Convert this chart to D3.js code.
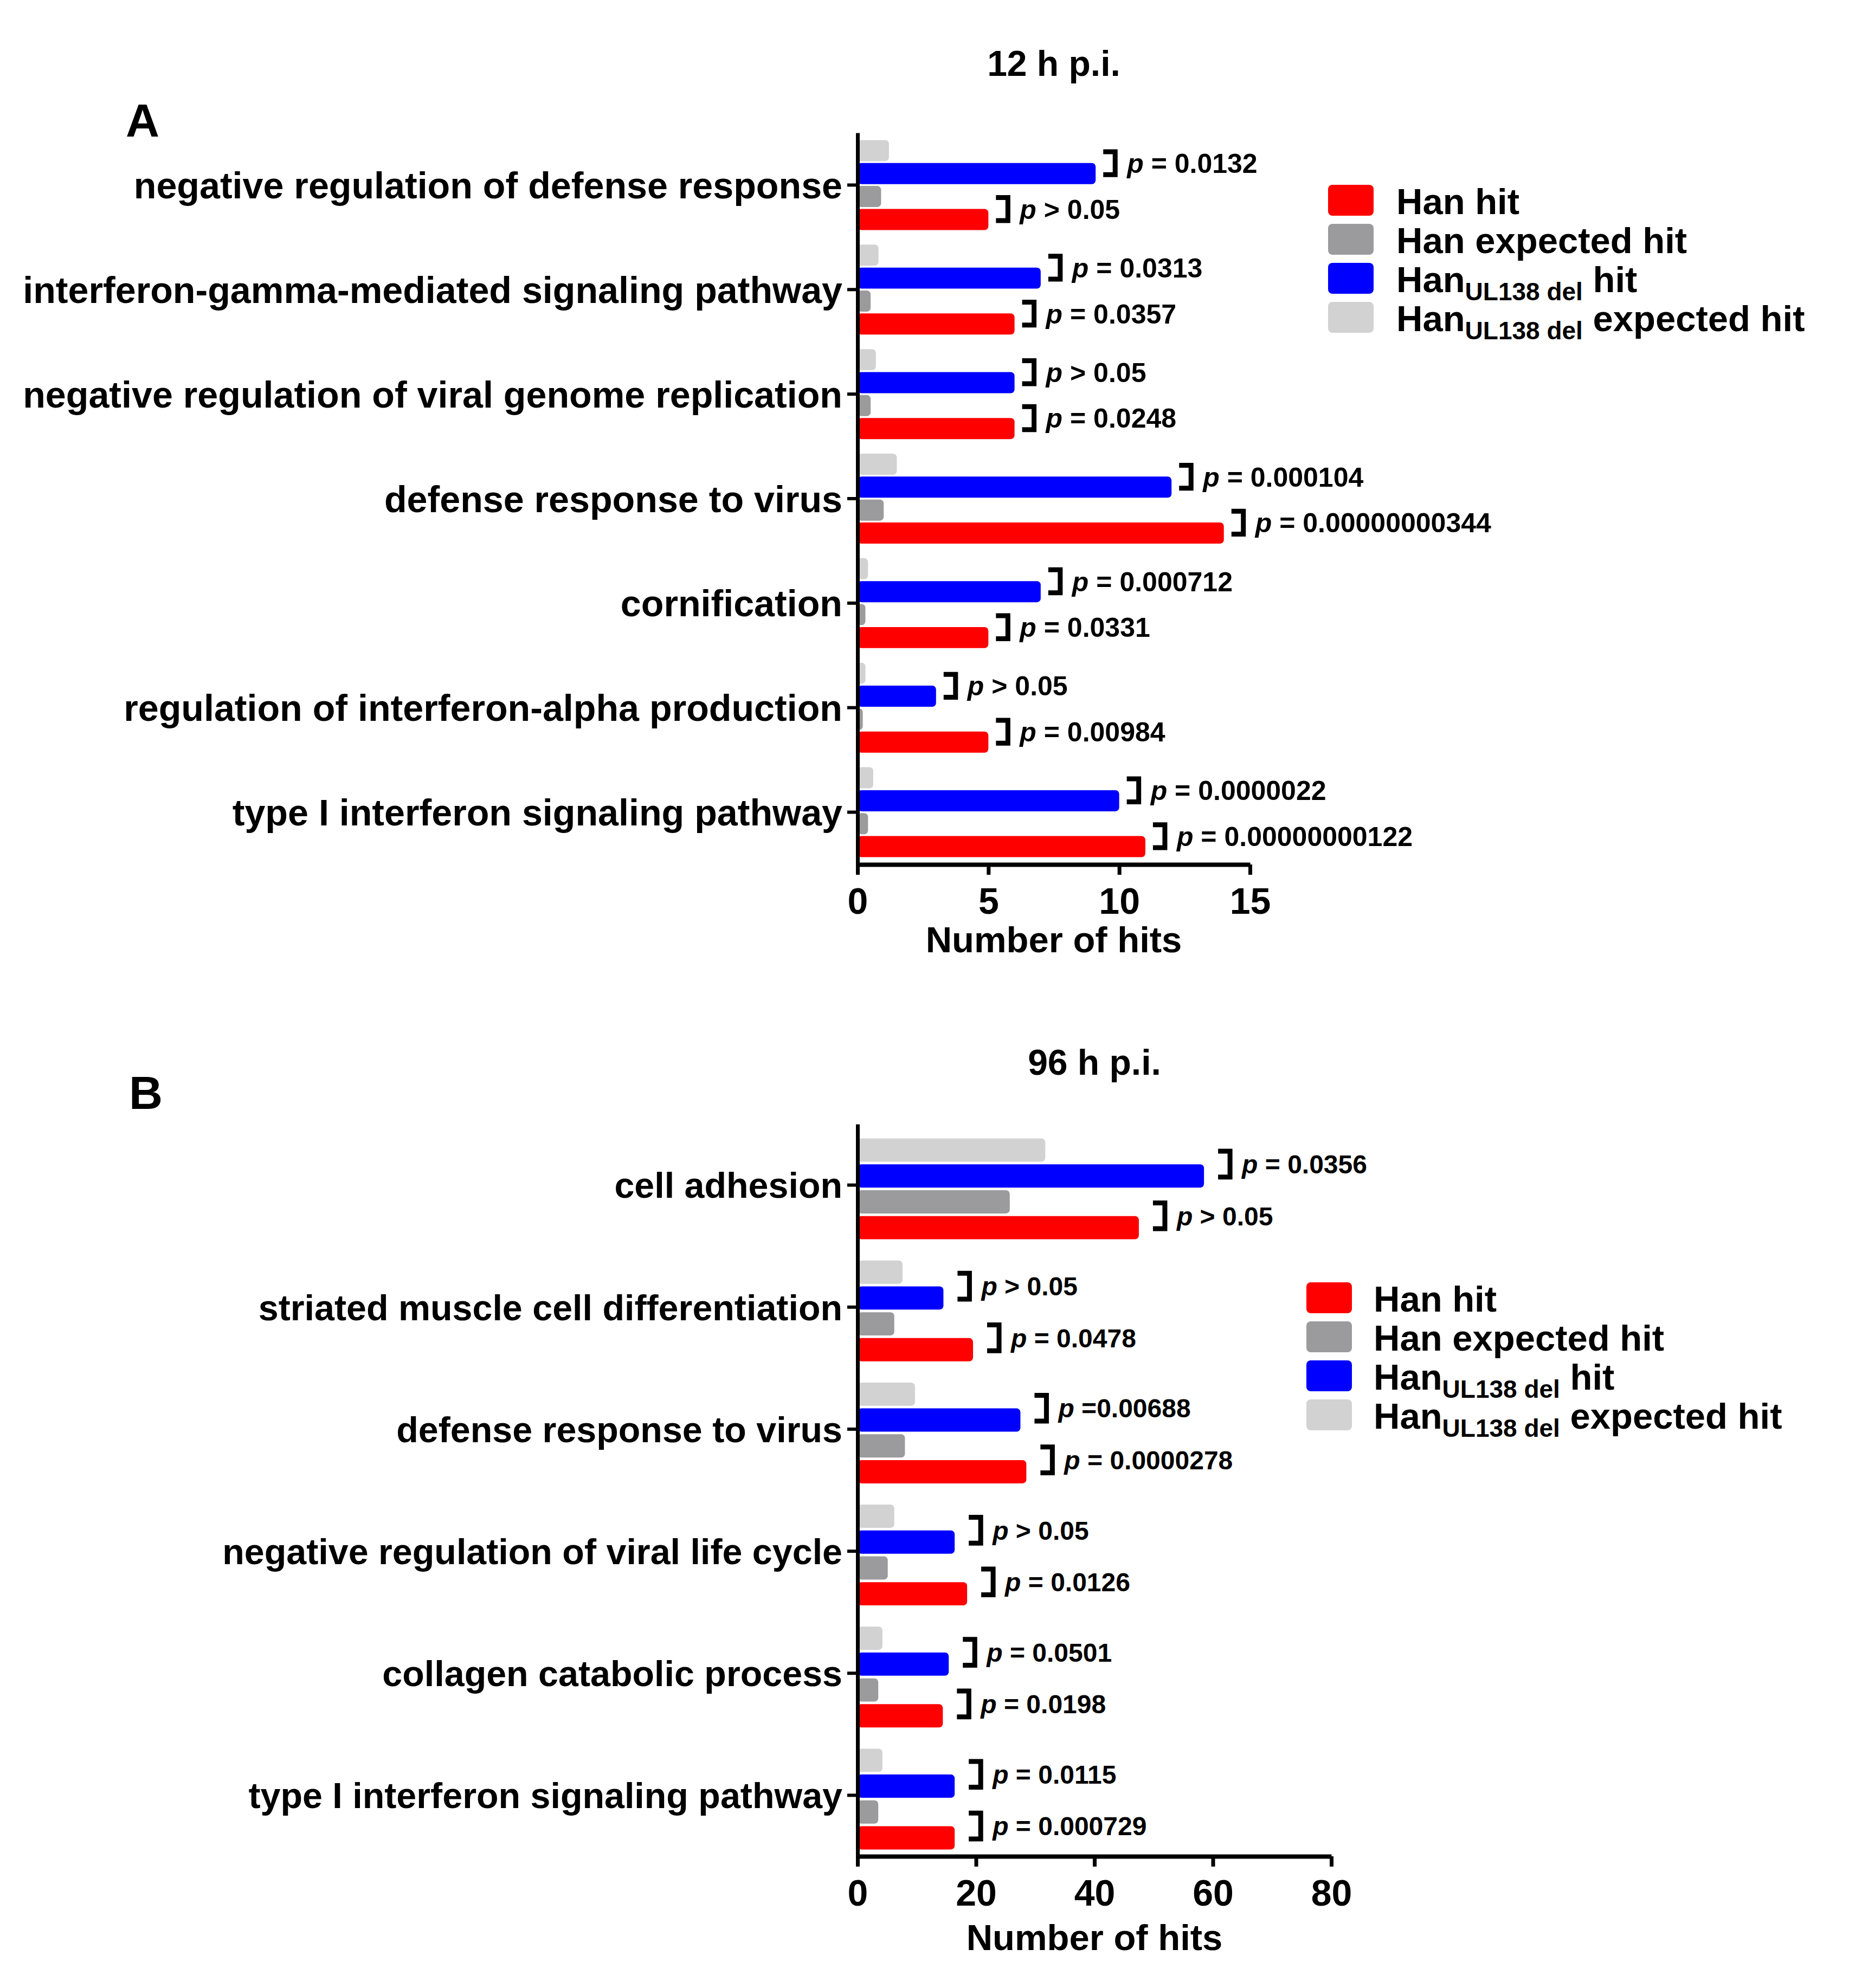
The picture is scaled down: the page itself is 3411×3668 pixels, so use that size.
<!DOCTYPE html>
<html>
<head>
<meta charset="utf-8">
<script src="https://cdn.jsdelivr.net/npm/d3@7"></script>
<style>
  body { margin: 0; background: #fff; }
  text { font-family: "Liberation Sans", Arial, sans-serif; font-weight: bold; fill: #000; }
</style>
</head>
<body>
<div id="chart"></div>
<script>
// ---- data, panel A (12 h p.i.) ----
var catsA = ["negative regulation of defense response",
             "interferon-gamma-mediated signaling pathway",
             "negative regulation of viral genome replication",
             "defense response to virus",
             "cornification",
             "regulation of interferon-alpha production",
             "type I interferon signaling pathway"];
var hanHitA = [5, 6, 6, 14, 5, 5, 11];
var hanExpA = [0.9, 0.5, 0.5, 1.0, 0.3, 0.2, 0.4];
var delHitA = [9.1, 7, 6, 12, 7, 3, 10];
var delExpA = [1.2, 0.8, 0.7, 1.5, 0.4, 0.3, 0.6];
var pDelA = ["= 0.0132", "= 0.0313", "> 0.05", "= 0.000104", "= 0.000712", "> 0.05", "= 0.0000022"];
var pHanA = ["> 0.05", "= 0.0357", "= 0.0248", "= 0.00000000344", "= 0.0331", "= 0.00984", "= 0.00000000122"];
var ticksA = [0, 5, 10, 15];

// ---- data, panel B (96 h p.i.) ----
var catsB = ["cell adhesion",
             "striated muscle cell differentiation",
             "defense response to virus",
             "negative regulation of viral life cycle",
             "collagen catabolic process",
             "type I interferon signaling pathway"];
var hanHitB = [47.5, 19.5, 28.5, 18.5, 14.4, 16.4];
var hanExpB = [25.7, 6.2, 8.0, 5.1, 3.5, 3.5];
var delHitB = [58.5, 14.5, 27.5, 16.4, 15.4, 16.4];
var delExpB = [31.7, 7.6, 9.7, 6.2, 4.2, 4.2];
var pDelB = ["= 0.0356", "> 0.05", "=0.00688", "> 0.05", "= 0.0501", "= 0.0115"];
var pHanB = ["> 0.05", "= 0.0478", "= 0.0000278", "= 0.0126", "= 0.0198", "= 0.000729"];
var ticksB = [0, 20, 40, 60, 80];

var series = ["delExp", "delHit", "hanExp", "hanHit"];   // top to bottom inside a group
var colors = {hanHit: "#ff0000", hanExp: "#9b9b9e", delHit: "#0000ff", delExp: "#d2d2d2"};
var legendOrder = ["hanHit", "hanExp", "delHit", "delExp"];

var W = 3411, H = 3668;
var svg = d3.select("#chart").append("svg")
    .attr("width", W).attr("height", H)
    .attr("viewBox", "0 0 " + W + " " + H);
svg.append("rect").attr("width", W).attr("height", H).attr("fill", "#fff");

function panel(o) {
    var g = svg.append("g");
    var x = d3.scaleLinear().domain([0, o.max]).range([o.left, o.right]);
    var y0 = d3.scaleBand().domain(o.cats).range([o.top, o.bottom]);
    var half = o.span / 2, mid = y0.bandwidth() / 2 + o.shift;
    var y1 = d3.scaleBand().domain(series)
        .range([mid - half, mid + half])
        .paddingInner(o.pad);

    var rows = o.cats.map(function(c, i) {
        return {cat: c, hanHit: o.hanHit[i], hanExp: o.hanExp[i], delHit: o.delHit[i],
                delExp: o.delExp[i], pDel: o.pDel[i], pHan: o.pHan[i]};
    });

    // bars
    var grp = g.selectAll(".grp").data(rows).enter().append("g")
        .attr("transform", function(d) { return "translate(0," + y0(d.cat) + ")"; });
    grp.selectAll("rect").data(function(d) {
            return series.map(function(s) { return {s: s, v: d[s]}; });
        }).enter().append("rect")
        .attr("x", x(0))
        .attr("y", function(d) { return y1(d.s); })
        .attr("width", function(d) { return x(d.v) - x(0); })
        .attr("height", y1.bandwidth())
        .attr("rx", 7)
        .attr("fill", function(d) { return colors[d.s]; });

    // brackets + p values
    var bw = 22;
    function pLabel(sel, obsKey, expKey, txtKey) {
        sel.each(function(d) {
            var gg = d3.select(this);
            var xb = x(d[obsKey]) + o.gap;
            var ya = y1(expKey) + y1.bandwidth() / 2 + 2;
            var yb = y1(obsKey) + y1.bandwidth() / 2 + 2;
            gg.append("path")
                .attr("d", "M" + xb + "," + ya + "H" + (xb + bw) + "V" + yb + "H" + xb)
                .attr("fill", "none").attr("stroke", "#000").attr("stroke-width", 9);
            var t = gg.append("text")
                .attr("x", xb + bw + 22)
                .attr("y", (ya + yb) / 2)
                .attr("dy", "0.36em")
                .style("font-size", o.pSize + "px");
            t.append("tspan").style("font-style", "italic").text("p");
            t.append("tspan").text(" " + d[txtKey]);
        });
    }
    pLabel(grp, "delHit", "delExp", "pDel");
    pLabel(grp, "hanHit", "hanExp", "pHan");

    // y axis
    var ya = g.append("g")
        .attr("transform", "translate(" + x(0) + ",0)")
        .call(d3.axisLeft(y0).tickSize(19).tickSizeOuter(0).tickPadding(9));
    ya.select(".domain").attr("stroke-width", 7);
    ya.selectAll(".tick line").attr("stroke-width", 6);
    ya.selectAll("text").style("font-size", o.catSize + "px").style("font-family", null)
        .attr("dy", "0.36em");

    // x axis
    var xa = g.append("g")
        .attr("transform", "translate(0," + o.bottom + ")")
        .call(d3.axisBottom(x).tickValues(o.ticks).tickSize(19).tickSizeOuter(0).tickPadding(24));
    xa.select(".domain").attr("stroke-width", 8);
    xa.selectAll(".tick line").attr("stroke-width", 7);
    xa.selectAll("text").style("font-size", "68px").style("font-family", null);

    // texts
    var xc = (o.left + o.right) / 2;
    g.append("text").attr("x", xc).attr("y", o.bottom + o.xtitleOff)
        .attr("text-anchor", "middle").style("font-size", "67px").text("Number of hits");
    g.append("text").attr("x", xc).attr("y", o.titleY)
        .attr("text-anchor", "middle").style("font-size", "66px").text(o.title);
    g.append("text").attr("x", o.letterX).attr("y", o.letterY)
        .style("font-size", "86px").text(o.letter);

    // legend
    var lg = g.append("g").attr("transform", "translate(" + o.legX + "," + o.legY + ")");
    var item = lg.selectAll(".li").data(legendOrder).enter().append("g")
        .attr("transform", function(d, i) { return "translate(0," + i * 72 + ")"; });
    item.append("rect").attr("width", 84).attr("height", 57).attr("rx", 8)
        .attr("fill", function(d) { return colors[d]; });
    item.each(function(d) {
        var t = d3.select(this).append("text").attr("x", o.legText).attr("y", 54)
            .style("font-size", "67px");
        if (d === "hanHit") t.text("Han hit");
        else if (d === "hanExp") t.text("Han expected hit");
        else {
            t.append("tspan").text("Han");
            t.append("tspan").attr("dy", 15).style("font-size", "46px").text("UL138 del");
            t.append("tspan").attr("dy", -15).text(d === "delHit" ? " hit" : " expected hit");
        }
    });
}

panel({cats: catsA, hanHit: hanHitA, hanExp: hanExpA, delHit: delHitA, delExp: delExpA,
       pDel: pDelA, pHan: pHanA, ticks: ticksA, max: 15,
       left: 1582, right: 2306, top: 245, bottom: 1595, span: 166, pad: 0.08, shift: 0, gap: 14,
       catSize: 68.2, pSize: 50,
       xtitleOff: 162, title: "12 h p.i.", titleY: 140, letter: "A", letterX: 232, letterY: 252,
       legX: 2450, legY: 341, legText: 126});

panel({cats: catsB, hanHit: hanHitB, hanExp: hanExpB, delHit: delHitB, delExp: delExpB,
       pDel: pDelB, pHan: pHanB, ticks: ticksB, max: 80,
       left: 1582, right: 2456, top: 2074, bottom: 3425, span: 186, pad: 0.1, shift: 7, gap: 26,
       catSize: 66.4, pSize: 48,
       xtitleOff: 173, title: "96 h p.i.", titleY: 1983, letter: "B", letterX: 238, letterY: 2046,
       legX: 2410, legY: 2366, legText: 124});
</script>
</body>
</html>
